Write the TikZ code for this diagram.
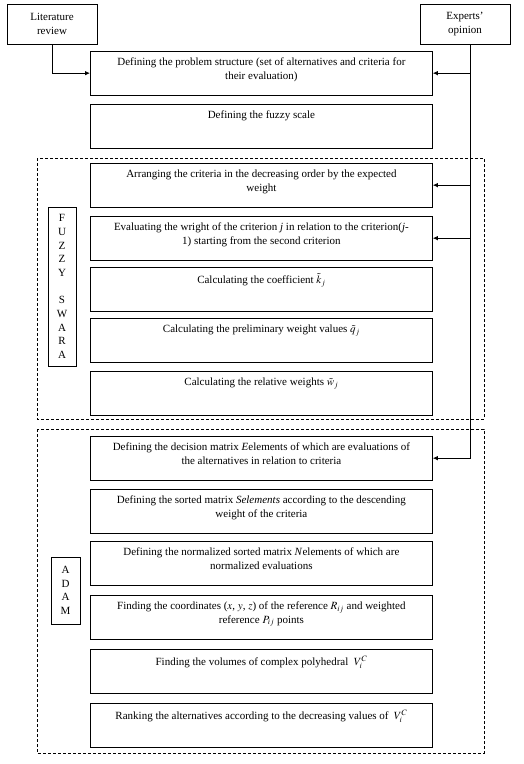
\documentclass[tikz,border=0pt]{standalone}
\usepackage{mathptmx}
\usepackage{fontspec}
\setmainfont{Liberation Serif}
\usetikzlibrary{arrows.meta}
\usetikzlibrary{calc}

\newcommand{\boxtext}[1]{\parbox[c][43.5pt][t]{334pt}{\vspace*{6.5pt}\centering #1}}

\begin{document}
\begin{tikzpicture}[x = 1pt, y = -1pt, font = \fontsize{11}{13.6}\selectfont,
				stepbox/.style = {draw, line width = 0.8pt, anchor = north west, inner xsep = 4pt, inner ysep = 0pt},
				srcbox/.style = {draw, line width = 0.8pt, minimum width = 90pt, minimum height = 40pt, align = center, inner sep = 1pt},
				tagbox/.style = {draw, line width = 0.8pt, align = center, inner sep = 0pt, font = \fontsize{11}{13.7}\selectfont},
				stagebox/.style = {draw, line width = 0.7pt, dash pattern = on 3pt off 2pt},
				feed/.style = {line width = 0.8pt, -{Latex[length = 5pt, width = 4.5pt]}}]
				\useasboundingbox (0, 0) rectangle (524, 764);

				\node[srcbox] (lit) at (52, 24) {Literature\\review};
				\node[srcbox] (exp) at (465, 24) {Experts’\\opinion};

				\node[stepbox] (s1) at (90, 51) {\boxtext{Defining the problem structure (set of alternatives and criteria for\\their evaluation)}};
				\node[stepbox] (s2) at (90, 104) {\boxtext{Defining the fuzzy scale}};

				\draw[stagebox] (37, 158) rectangle (484, 419);
				\node[tagbox, minimum width = 28pt, minimum height = 159pt] (swara) at (62, 286.5) {F\\U\\Z\\Z\\Y\\ \\S\\W\\A\\R\\A};
				\node[stepbox] (s3) at (90, 163) {\boxtext{Arranging the criteria in the decreasing order by the expected\\weight}};
				\node[stepbox] (s4) at (90, 216) {\boxtext{Evaluating the wright of the criterion \textit{j} in relation to the criterion(\textit{j}-\\1) starting from the second criterion}};
				\node[stepbox] (s5) at (90, 267) {\boxtext{Calculating the coefficient $\tilde{k}_j$}};
				\node[stepbox] (s6) at (90, 318) {\boxtext{Calculating the preliminary weight values $\tilde{q}_j$}};
				\node[stepbox] (s7) at (90, 371) {\boxtext{Calculating the relative weights $\tilde{w}_j$}};

				\draw[stagebox] (37, 429) rectangle (484, 753);
				\node[tagbox, minimum width = 29pt, minimum height = 67pt] (adam) at (65.5, 590.5) {A\\D\\A\\M};
				\node[stepbox] (a1) at (90, 436) {\boxtext{Defining the decision matrix \textit{E}elements of which are evaluations of\\the alternatives in relation to criteria}};
				\node[stepbox] (a2) at (90, 489) {\boxtext{Defining the sorted matrix \textit{Selements} according to the descending\\weight of the criteria}};
				\node[stepbox] (a3) at (90, 541) {\boxtext{Defining the normalized sorted matrix \textit{N}elements of which are\\normalized evaluations}};
				\node[stepbox] (a4) at (90, 595) {\boxtext{Finding the coordinates ($x$, $y$, $z$) of the reference $R_{ij}$ and weighted\\reference $P_{ij}$ points}};
				\node[stepbox] (a5) at (90, 649) {\boxtext{Finding the volumes of complex polyhedral \ $V_i^C$}};
				\node[stepbox] (a6) at (90, 703) {\boxtext{Ranking the alternatives according to the decreasing values of \ $V_i^C$}};

				\coordinate (e0) at ($(exp.south)+(5, 0)$);
				\draw[feed] (lit.south) |- (s1.west);
				\draw[feed] (e0) |- (a1.east);
				\draw[feed] (e0 |- s1.east) -- (s1.east);
				\draw[feed] (e0 |- s3.east) -- (s3.east);
				\draw[feed] (e0 |- s4.east) -- (s4.east);
			\end{tikzpicture}
\end{document}
